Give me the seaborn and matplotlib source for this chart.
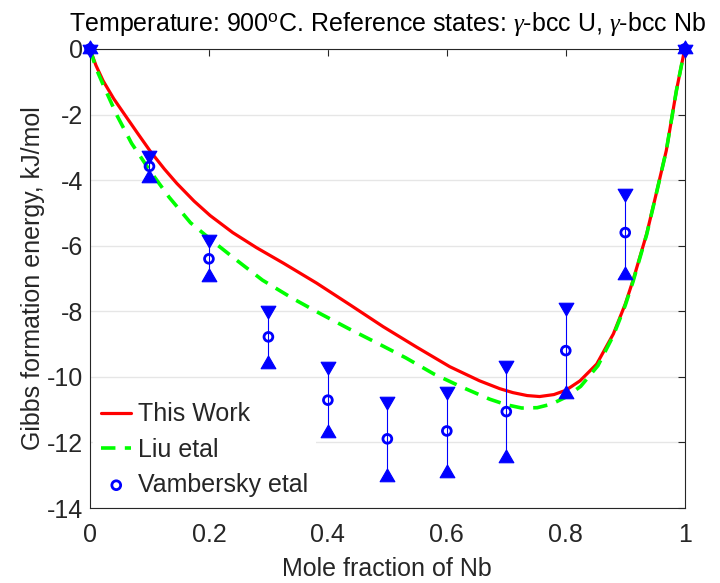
import numpy as np
import pandas as pd
import matplotlib
matplotlib.use("Agg")
import matplotlib.pyplot as plt
from matplotlib.path import Path
import seaborn as sns

# ---- data ----
x_this = [0.0, 0.01, 0.022, 0.04, 0.059, 0.08, 0.101, 0.125, 0.146, 0.175, 0.202,
          0.24, 0.28, 0.325, 0.381, 0.437, 0.493, 0.549, 0.605, 0.655, 0.689,
          0.711, 0.735, 0.756, 0.78, 0.8, 0.824, 0.852, 0.88, 0.9, 0.913, 0.936,
          0.952, 0.969, 0.986, 1.0]
y_this = [0.0, -0.5, -0.97, -1.52, -2.02, -2.57, -3.11, -3.66, -4.1, -4.64, -5.08,
          -5.6, -6.06, -6.53, -7.14, -7.8, -8.47, -9.09, -9.69, -10.12, -10.36,
          -10.48, -10.57, -10.6, -10.54, -10.41, -10.12, -9.61, -8.69, -7.78, -7.06, -5.64,
          -4.42, -3.1, -1.27, 0.0]

x_liu = [0.0, 0.01, 0.0235, 0.046, 0.07, 0.101, 0.133, 0.169, 0.211, 0.245, 0.29,
         0.341, 0.388, 0.435, 0.483, 0.531, 0.578, 0.625, 0.672, 0.7, 0.726, 0.752,
         0.776, 0.8, 0.825, 0.854, 0.88, 0.9, 0.913, 0.936, 0.952, 0.969, 0.986, 1.0]
y_liu = [0.0, -0.58, -1.15, -2.05, -2.88, -3.72, -4.52, -5.3, -5.93, -6.42, -7.05,
         -7.61, -8.08, -8.53, -8.97, -9.42, -9.91, -10.31, -10.68, -10.85, -10.95, -10.94,
         -10.83, -10.62, -10.29, -9.66, -8.74, -7.82, -7.1, -5.66, -4.43, -3.1, -1.27, 0.0]

x_vam = [0.0, 0.1, 0.2, 0.3, 0.4, 0.5, 0.6, 0.7, 0.8, 0.9, 1.0]
y_vam = [0.0, -3.58, -6.40, -8.78, -10.71, -11.89, -11.65, -11.06, -9.20, -5.60, 0.0]
y_vam_hi = [0.0, -3.22, -5.80, -7.95, -9.68, -10.74, -10.42, -9.65, -7.88, -4.38, 0.0]
y_vam_lo = [0.0, -3.92, -6.95, -9.62, -11.72, -13.04, -12.92, -12.46, -10.52, -6.88, 0.0]

title_text = r"Temperature: 900$^{\mathrm{o}}$C. Reference states: $\gamma$-bcc U, $\gamma$-bcc Nb"
x_label = "Mole fraction of Nb"
y_label = "Gibbs formation energy, kJ/mol"
x_ticks = [0, 0.2, 0.4, 0.6, 0.8, 1]
x_ticklabels = ["0", "0.2", "0.4", "0.6", "0.8", "1"]
y_ticks = [0, -2, -4, -6, -8, -10, -12, -14]
y_ticklabels = ["0", "-2", "-4", "-6", "-8", "-10", "-12", "-14"]

# ---- style ----
sns.set_style("white")
plt.rcParams["font.family"] = ["Liberation Sans", "DejaVu Sans"]
plt.rcParams["mathtext.fontset"] = "custom"
plt.rcParams["mathtext.rm"] = "Liberation Sans"
plt.rcParams["mathtext.it"] = "Liberation Serif:italic"

FS = 18
fig = plt.figure(figsize=(7.2, 5.83), dpi=100)
ax = fig.add_axes([0.125, 0.1286, 0.826, 0.7874])

df_this = pd.DataFrame({"x": x_this, "y": y_this})
df_liu = pd.DataFrame({"x": x_liu, "y": y_liu})
df_vam = pd.DataFrame({"x": x_vam, "y": y_vam, "hi": y_vam_hi, "lo": y_vam_lo})

# triangles centred on their centroid (so coincident up/down give a hexagram)
tri_down = Path([(-0.866, 0.5), (0.866, 0.5), (0.0, -1.0), (-0.866, 0.5)],
                [Path.MOVETO, Path.LINETO, Path.LINETO, Path.CLOSEPOLY])
tri_up = Path([(-0.866, -0.5), (0.866, -0.5), (0.0, 1.0), (-0.866, -0.5)],
              [Path.MOVETO, Path.LINETO, Path.LINETO, Path.CLOSEPOLY])

ax.grid(axis="y", color="#e6e6e6", lw=1.0, zorder=0)
ax.set_axisbelow(True)

sns.lineplot(data=df_this, x="x", y="y", sort=False, ax=ax, color="#ff0000",
             lw=2.3, label="This Work", zorder=3)
sns.lineplot(data=df_liu, x="x", y="y", sort=False, ax=ax, color="#00ff00",
             lw=2.6, dashes=False, label="Liu etal", zorder=4)
ax.lines[-1].set_dashes((4.0, 2.6))

ax.vlines(df_vam["x"], df_vam["lo"], df_vam["hi"], color="#0000ff", lw=0.8, zorder=5)
sns.scatterplot(data=df_vam, x="x", y="hi", ax=ax, marker=tri_down, s=150,
                color="#0000ff", edgecolor="#0000ff", linewidth=0.8, zorder=6,
                legend=False, clip_on=False)
sns.scatterplot(data=df_vam, x="x", y="lo", ax=ax, marker=tri_up, s=150,
                color="#0000ff", edgecolor="#0000ff", linewidth=0.8, zorder=6,
                legend=False, clip_on=False)
sns.scatterplot(data=df_vam, x="x", y="y", ax=ax, marker="o", s=40,
                facecolor="none", edgecolor="#0000ff", linewidth=2.0, zorder=7,
                label="Vambersky etal", clip_on=False)

ax.set_xlim(0, 1)
ax.set_ylim(-14, 0)
ax.set_xticks(x_ticks)
ax.set_xticklabels(x_ticklabels)
ax.set_yticks(y_ticks)
ax.set_yticklabels(y_ticklabels)
ax.tick_params(axis="both", direction="in", length=5, width=0.8, labelsize=FS,
               top=True, right=True, colors="#262626")
ax.tick_params(axis="x", pad=11)
ax.tick_params(axis="y", pad=5)
for lab in ax.get_xticklabels() + ax.get_yticklabels():
    lab.set_color("#262626")
for s in ax.spines.values():
    s.set_color("#262626")
    s.set_linewidth(0.8)

ax.set_xlabel(x_label, fontsize=FS, color="#262626", labelpad=7)
ax.set_ylabel(y_label, fontsize=FS, color="#262626", labelpad=1)
ax.set_title(title_text, fontsize=FS, color="black", pad=13)

leg = ax.legend(loc="lower left", fontsize=FS, frameon=True, framealpha=1,
                facecolor="white", edgecolor="none", handlelength=1.2,
                handletextpad=0.25, borderaxespad=0.1, labelspacing=0.45,
                borderpad=0.35)
leg.get_frame().set_linewidth(0)
for h in leg.legend_handles:
    try:
        h.set_markersize(6)
    except Exception:
        pass

fig.savefig("out.png", dpi=100)
